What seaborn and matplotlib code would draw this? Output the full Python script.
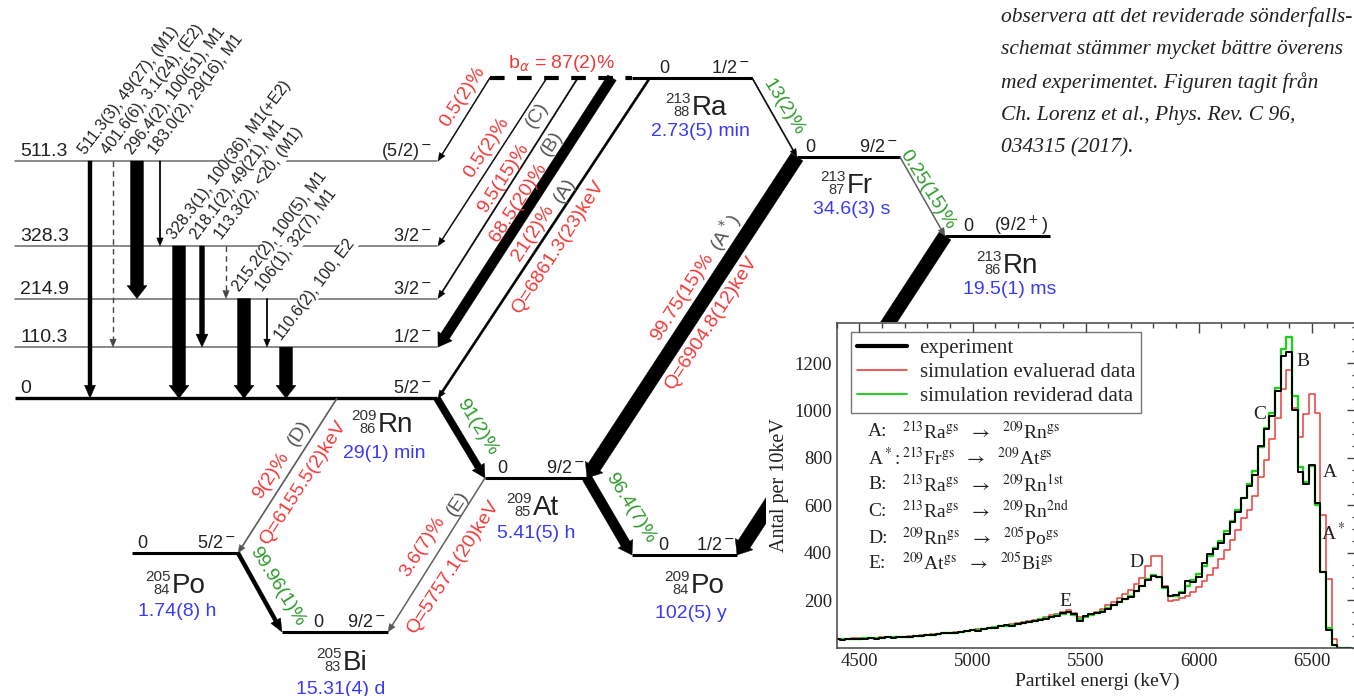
import numpy as np
import matplotlib
matplotlib.use("Agg")
import matplotlib.pyplot as plt
import seaborn as sns
from matplotlib.lines import Line2D
from matplotlib.patches import Rectangle

# ---------------------------------------------------------
# DATA
# ---------------------------------------------------------
# 209Rn levels (keV) and spins
rn209_levels = [511.3, 328.3, 214.9, 110.3, 0.0]
rn209_spins = ["(5/2)$^-$", "3/2$^-$", "3/2$^-$", "1/2$^-$", "5/2$^-$"]

# gamma transitions inside 209Rn
gamma_from = [511.3, 511.3, 511.3, 511.3, 328.3, 328.3, 328.3, 214.9, 214.9, 110.3]
gamma_to = [0.0, 110.3, 214.9, 328.3, 0.0, 110.3, 214.9, 0.0, 110.3, 0.0]
gamma_labels = ["511.3(3), 49(27), (M1)", "401.6(6), 3.1(24), (E2)",
                "296.4(2), 100(51), M1", "183.0(2), 29(16), M1",
                "328.3(1), 100(36), M1(+E2)", "218.1(2), 49(21), M1",
                "113.3(2), <20, (M1)", "215.2(2), 100(5), M1",
                "106(1), 32(7), M1", "110.6(2), 100, E2"]

# 213Ra alpha feeding of 209Rn levels
ra_feed_level = [511.3, 328.3, 214.9, 110.3, 0.0]
ra_feed_pct = ["0.5(2)%", "0.5(2)%", "9.5(15)%", "68.5(20)%", "21(2)%"]
ra_feed_tag = ["", "", "(C)", "(B)", "(A)"]
ra_alpha_total = "b$_\\alpha$ = 87(2)%"
ra_q = "Q=6861.3(23)keV"

# nuclides in the chain
nuclides = ["Ra213", "Fr213", "Rn213", "Rn209", "At209", "Po209", "Po205", "Bi205"]
nuc_symbol = ["Ra", "Fr", "Rn", "Rn", "At", "Po", "Po", "Bi"]
nuc_mass = ["213", "213", "213", "209", "209", "209", "205", "205"]
nuc_z = ["88", "87", "86", "86", "85", "84", "84", "83"]
nuc_halflife = ["2.73(5) min", "34.6(3) s", "19.5(1) ms", "29(1) min",
                "5.41(5) h", "102(5) y", "1.74(8) h", "15.31(4) d"]
nuc_spin = ["1/2$^-$", "9/2$^-$", "(9/2$^+$)", "5/2$^-$", "9/2$^-$", "1/2$^-$",
            "5/2$^-$", "9/2$^-$"]

# decays between ground states
decay_parent = ["Ra213", "Fr213", "Fr213", "Rn213", "Rn209", "Rn209", "At209", "At209", "Po205"]
decay_daughter = ["Fr213", "Rn213", "At209", "Po209", "At209", "Po205", "Po209", "Bi205", "Bi205"]
decay_branch = ["13(2)%", "0.25(15)%", "99.75(15)%", "", "91(2)%", "9(2)%",
                "96.4(7)%", "3.6(7)%", "99.96(1)%"]
decay_tag = ["", "", "(A$^*$)", "", "", "(D)", "", "(E)", ""]
decay_q = ["", "", "Q=6904.8(12)keV", "", "", "Q=6155.5(2)keV", "",
           "Q=5757.1(20)keV", ""]

# spectrum (counts per 10 keV)
energy = np.arange(4400, 6700, 25)
counts_exp = [36, 34, 37, 35, 38, 36, 40, 38, 41, 43,
              40, 45, 46, 44, 49, 51, 54, 52, 58, 60,
              62, 60, 66, 70, 74, 72, 78, 82, 85, 90,
              94, 92, 100, 104, 108, 112, 118, 122, 128, 135,
              145, 152, 140, 112, 132, 140, 145, 152, 165, 178,
              192, 205, 215, 238, 258, 285, 302, 296, 255, 218,
              222, 232, 282, 275, 300, 355, 395, 415, 440, 480,
              530, 570, 630, 680, 730, 850, 920, 975, 1080, 1230,
              1245, 1000, 740, 690, 770, 610, 320, 75, 10, 0,
              0, 0]
counts_eval = [37, 37, 38, 39, 39, 40, 41, 42, 43, 44,
               45, 46, 47, 48, 50, 52, 54, 56, 58, 61,
               63, 65, 68, 71, 74, 77, 80, 84, 88, 92,
               96, 100, 104, 108, 113, 118, 123, 129, 136, 144,
               150, 157, 146, 128, 135, 143, 152, 164, 180, 193,
               208, 225, 244, 268, 293, 345, 388, 385, 262, 198,
               200, 208, 220, 235, 255, 280, 308, 338, 375, 410,
               452, 495, 545, 580, 640, 720, 790, 880, 968, 1090,
               1170, 1010, 890, 985, 1070, 990, 560, 290, 35, 0,
               0, 0]
counts_rev = [36, 36, 37, 38, 38, 39, 40, 41, 42, 43,
              44, 45, 46, 47, 49, 51, 53, 55, 57, 60,
              62, 64, 67, 70, 73, 76, 79, 82, 86, 90,
              93, 97, 101, 105, 109, 114, 119, 124, 130, 137,
              144, 150, 138, 122, 130, 138, 146, 155, 167, 180,
              193, 206, 220, 240, 262, 288, 306, 300, 250, 220,
              220, 235, 262, 285, 310, 345, 385, 420, 450, 490,
              535, 580, 630, 690, 745, 845, 925, 990, 1095, 1260,
              1310, 1060, 760, 700, 765, 600, 320, 85, 12, 0,
              0, 0]
series_names = ["experiment", "simulation evaluerad data", "simulation reviderad data"]

peak_tags = ["A", "A$^*$", "B", "C", "D", "E"]
peak_parent = [("213", "Ra", "gs"), ("213", "Fr", "gs"), ("213", "Ra", "gs"),
               ("213", "Ra", "gs"), ("209", "Rn", "gs"), ("209", "At", "gs")]
peak_daughter = [("209", "Rn", "gs"), ("209", "At", "gs"), ("209", "Rn", "1st"),
                 ("209", "Rn", "2nd"), ("205", "Po", "gs"), ("205", "Bi", "gs")]

note_lines = ["observera att det reviderade sönderfalls-",
              "schemat stämmer mycket bättre överens",
              "med experimentet. Figuren tagit från",
              "Ch. Lorenz et al., Phys. Rev. C 96,",
              "034315 (2017)."]

# ---------------------------------------------------------
# LAYOUT (pixel positions of the scheme)
# ---------------------------------------------------------
RED, GREEN, BLUE, GREY = "#f03a3a", "#2f9a2f", "#3b3bf5", "#555555"
SANS = ["Liberation Sans", "DejaVu Sans"]
SERIF = ["Liberation Serif", "DejaVu Serif"]

rn_y0, rn_scale = 398.3, 0.4641      # px of 209Rn ground state, px per keV


def level_y(e):
    return rn_y0 - e * rn_scale


lvl = {  # x0, x1, y, x of "0" label
    "Ra213": (632, 752, 77.7, 664), "Fr213": (797, 900, 157, 810),
    "Rn213": (945, 1050, 236, 968), "Rn209": (15, 437, rn_y0, None),
    "At209": (485, 587, 478, 502), "Po209": (632, 737, 555, 663),
    "Po205": (132, 238, 553, 142), "Bi205": (282, 388, 632, 318),
}
nuc_pos = {  # left of symbol, baseline of symbol, centre of half-life
    "Ra213": (692, 115, (700, 132)), "Fr213": (847, 193, (852, 210)),
    "Rn213": (1003, 273, (1010, 289)), "Rn209": (378, 432, (384, 453)),
    "At209": (533, 515, (536, 533)), "Po209": (691, 593, (691, 613)),
    "Po205": (172, 593, (177, 612)), "Bi205": (343, 670, (341, 689)),
}
alpha_out_x = {"Rn209": 337}
gamma_x = [90, 113, 137, 160, 179, 202, 226, 244, 267, 286]
gamma_w = [4, 0, 13, 1.6, 13, 5, 0, 13, 1.6, 13]      # 0 -> dashed
ra_feed_x = [490, 547, 578, 612, 650]
ra_feed_w = [1.0, 1.0, 1.3, 10, 2.2]
ra_pct_pos = [(463, 97), (487, 148), (504, 178), (518, 203), (533, 233)]
ra_tag_pos = [None, None, (537, 115), (552, 143), (565, 190)]
decay_w = [1.2, 1.0, 14, 14, 7, 1.2, 10, 1.0, 4]
decay_col = ["black", GREY, "black", "black", "black", GREY, "black", GREY, "black"]
branch_pos = [(783, 107), (927, 190), (682, 297), None, (477, 427), (271, 476),
              (630, 508), (423, 547), (277, 587)]
tag_pos = [None, None, (725, 232), None, None, (299, 433), None, (458, 503), None]
q_pos = [None, None, (711, 323), None, None, (303, 483), None, (453, 567), None]
LBL = 14   # size of the rotated branch labels

# ---------------------------------------------------------
# FIGURE
# ---------------------------------------------------------
sns.set_theme(style="white")
plt.rcParams["font.family"] = SANS
plt.rcParams["mathtext.fontset"] = "dejavusans"

fig = plt.figure(figsize=(13.54, 6.96), dpi=100)
ax = fig.add_axes([0, 0, 1, 1])
ax.set_xlim(0, 1354)
ax.set_ylim(696, 0)
ax.axis("off")


def arrow(p0, p1, w, color="black", z=3):
    hw = w + 7 if w > 3 else 6.5
    hl = 13 if w > 3 else 8
    ax.arrow(p0[0], p0[1], p1[0] - p0[0], p1[1] - p0[1], width=w,
             head_width=hw, head_length=hl, length_includes_head=True,
             fc=color, ec=color, lw=0.3, zorder=z)


def rot_text(pos, s, color, rot, size=LBL):
    ax.text(pos[0], pos[1], s, fontsize=size, color=color, rotation=rot,
            ha="center", va="center", rotation_mode="anchor", zorder=6)


# 209Rn level scheme
for e, spin in zip(rn209_levels, rn209_spins):
    y = level_y(e)
    if e == 0:
        ax.plot([15, 437], [y, y], color="black", lw=2.4, solid_capstyle="butt", zorder=2)
    else:
        ax.plot([15, 437], [y, y], color="#6a6a6a", lw=1.1, zorder=2)
    ax.text(20, y - 5, f"{e:g}" if e else "0", fontsize=14, color="#222222",
            va="baseline", ha="left")
    ax.text(432, y - 5, spin, fontsize=13, color="#222222", va="baseline", ha="right")

for x, w, e0, e1, txt in zip(gamma_x, gamma_w, gamma_from, gamma_to, gamma_labels):
    y0, y1 = level_y(e0), level_y(e1)
    if w == 0:
        ax.plot([x, x], [y0, y1 - 6], color="#444444", lw=1.0, ls=(0, (4, 3)))
        arrow((x, y1 - 7), (x, y1), 0.8, color="#444444")
    else:
        arrow((x, y0), (x, y1), w)
    ax.text(x - 4, y0 - 6, txt, fontsize=11.5, color="#222222", rotation=53,
            rotation_mode="anchor", ha="left", va="baseline", zorder=4,
            bbox=dict(boxstyle="square,pad=0.05", fc="white", ec="none"))

# nuclide ground state levels and labels
for n, sym, a, z, half, spin in zip(nuclides, nuc_symbol, nuc_mass, nuc_z,
                                     nuc_halflife, nuc_spin):
    x0, x1, y, x_zero = lvl[n]
    if n != "Rn209":
        ax.plot([x0, x1], [y, y], color="black", lw=2.2, solid_capstyle="butt")
        ax.text(x_zero, y - 5, "0", fontsize=13, color="#222222", ha="center", va="baseline")
        ax.text(x1 - 2, y - 5, spin, fontsize=13, color="#222222", ha="right", va="baseline")
    sx, sy, hpos = nuc_pos[n]
    ax.text(sx, sy, sym, fontsize=20, color="#222222", ha="left", va="baseline")
    ax.text(sx - 1, sy - 12, a, fontsize=11, color="#333333", ha="right", va="baseline")
    ax.text(sx - 2, sy + 1, z, fontsize=10.5, color="#333333", ha="right", va="baseline")
    ax.text(hpos[0], hpos[1], half, fontsize=14, color=BLUE, ha="center", va="center")

# 213Ra alpha branch: dashed bar and feeding lines
ra_y = lvl["Ra213"][2]
ax.plot([490, 632], [ra_y, ra_y], color="black", lw=3, ls=(0, (3.5, 3)),
        solid_capstyle="butt")
ax.text(561, 63, ra_alpha_total, fontsize=14, color=RED, ha="center", va="center")
for xs, w, e, pct, tag, ppos, tpos in zip(ra_feed_x, ra_feed_w, ra_feed_level,
                                          ra_feed_pct, ra_feed_tag, ra_pct_pos, ra_tag_pos):
    arrow((xs, ra_y), (438, level_y(e)), w)
    rot_text(ppos, pct, RED, 57)
    if tpos:
        rot_text(tpos, tag, GREY, 57)
rot_text((558, 247), ra_q, RED, 57)

# decays between ground states
for i, (p, d) in enumerate(zip(decay_parent, decay_daughter)):
    is_alpha = int(nuc_z[nuclides.index(p)]) - int(nuc_z[nuclides.index(d)]) == 2
    px0, px1, py, _ = lvl[p]
    dx0, dx1, dy, _ = lvl[d]
    if is_alpha:
        start, end, rot = (alpha_out_x.get(p, px0), py), (dx1, dy), 57
    else:
        start, end, rot = (px1, py), (dx0, dy), -58
    arrow(start, end, decay_w[i], color=decay_col[i])
    if branch_pos[i]:
        rot_text(branch_pos[i], decay_branch[i], RED if is_alpha else GREEN, rot)
    if tag_pos[i]:
        rot_text(tag_pos[i], decay_tag[i], GREY, rot)
    if q_pos[i]:
        rot_text(q_pos[i], decay_q[i], RED, rot)

# the spectrum panel is pasted over the scheme
ax.add_patch(Rectangle((766, 322), 600, 380, fc="white", ec="none", zorder=8))

# note in the upper right corner
for k, line in enumerate(note_lines):
    fig.text(1001 / 1354, 1 - (17 + 32.8 * k) / 696, line, fontsize=15.5,
             family=SERIF, style="italic", color="#222222", ha="left", va="center")

# ---------------------------------------------------------
# INSET: alpha spectrum
# ---------------------------------------------------------
axi = fig.add_axes([836.8 / 1354, (696 - 647.7) / 696, (1357 - 836.8) / 1354,
                    (647.7 - 322.7) / 696])
axi.set_facecolor("white")
sns.lineplot(x=energy, y=counts_eval, ax=axi, color="#e8403c", lw=1.1, drawstyle="steps-mid")
sns.lineplot(x=energy, y=counts_rev, ax=axi, color="#1fd01f", lw=1.7, drawstyle="steps-mid")
sns.lineplot(x=energy, y=counts_exp, ax=axi, color="black", lw=1.4, drawstyle="steps-mid")
axi.set_xlim(4400, 6700)
axi.set_ylim(0, 1370)
axi.set_xticks([4500, 5000, 5500, 6000, 6500])
axi.set_xticks(np.arange(4400, 6701, 100), minor=True)
axi.set_yticks([200, 400, 600, 800, 1000, 1200])
axi.set_yticks(np.arange(0, 1371, 50), minor=True)
axi.tick_params(which="both", direction="in", top=True, right=True, colors="#444444",
                labelcolor="#222222", labelsize=13.5)
axi.tick_params(which="major", length=7, width=1)
axi.tick_params(which="minor", length=3.5, width=1)
for lab in axi.get_xticklabels() + axi.get_yticklabels():
    lab.set_family(SERIF)
for s in axi.spines.values():
    s.set_color("#444444")
    s.set_linewidth(1.1)
axi.set_xlabel("Partikel energi (keV)", family=SERIF, fontsize=14, color="#222222", labelpad=2)
axi.set_ylabel("Antal per 10keV", family=SERIF, fontsize=14.5, color="#222222", labelpad=4)

handles = [Line2D([], [], color="black", lw=3),
           Line2D([], [], color="#e8403c", lw=1.2),
           Line2D([], [], color="#1fd01f", lw=1.4)]
leg = axi.legend(handles, series_names, loc="upper left", bbox_to_anchor=(0.027, 0.971),
                 borderaxespad=0, frameon=True, fancybox=False, edgecolor="#555555",
                 prop={"family": SERIF, "size": 15}, handlelength=2.4, handletextpad=0.6,
                 labelspacing=0.22, borderpad=0.3)
leg.get_frame().set_linewidth(1.0)

row_y = [913, 800, 687, 575, 462, 356]
for tag, pa, da, y in zip(peak_tags, peak_parent, peak_daughter, row_y):
    axi.text(4538, y, tag + ":", family=SERIF, fontsize=14, color="#222222",
             va="center", math_fontfamily="stix")
    s = (f"$^{{{pa[0]}}}${pa[1]}$^{{\\rm {pa[2]}}}$  "
         f"$\\rightarrow$  $^{{{da[0]}}}${da[1]}$^{{\\rm {da[2]}}}$")
    axi.text(4688, y, s, family=SERIF, fontsize=14, color="#222222", va="center",
             math_fontfamily="stix")

peak_pos = {"B": (6463, 1207), "C": (6272, 983), "A": (6581, 738),
            "A$^*$": (6595, 485), "D": (5723, 358), "E": (5410, 193)}
for tag in peak_tags:
    x, y = peak_pos[tag]
    axi.text(x, y, tag, family=SERIF, fontsize=14, color="#222222", ha="center",
             va="center", math_fontfamily="stix")

fig.savefig("out.png", dpi=100)
